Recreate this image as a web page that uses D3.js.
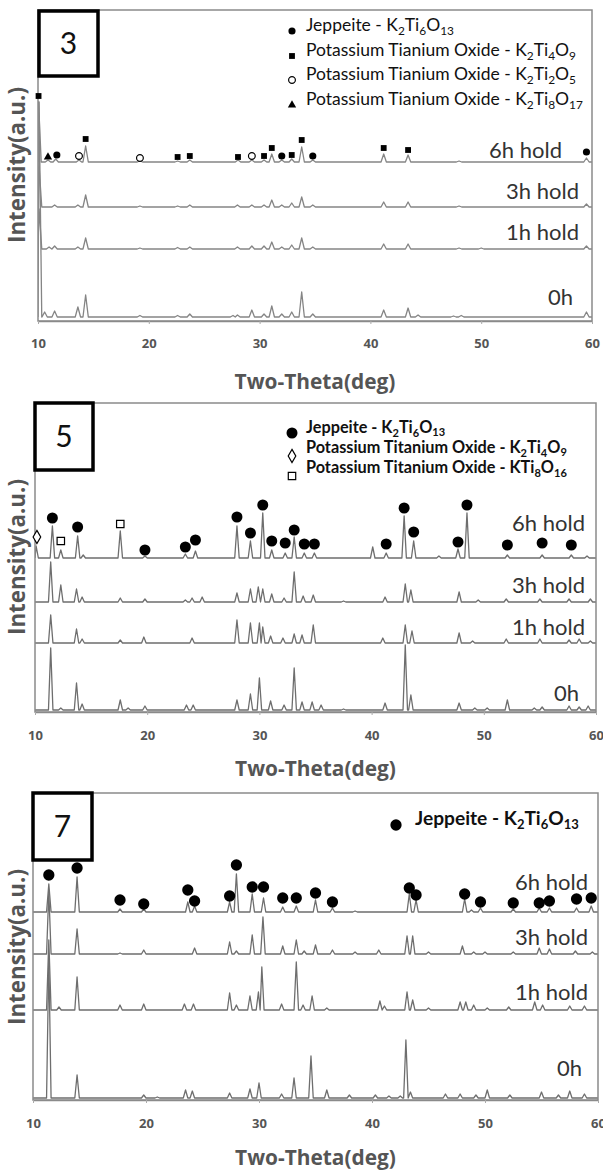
<!DOCTYPE html>
<html><head><meta charset="utf-8">
<script src="https://cdn.jsdelivr.net/npm/d3@7"></script>
<style>body{margin:0;background:#fff}</style>
</head><body><svg id="c" width="603" height="1173"></svg>
<script>
// ---------------- DATA ----------------
const xTicks = [10, 20, 30, 40, 50, 60];
const traceNames = ["0h", "1h hold", "3h hold", "6h hold"];

// Panel 3 (first panel in the figure)
const p1Offsets = [4, 72, 114, 159];
const p1Peaks0h = [[10.1,215],[10.6,5],[11.5,6],[13.6,10],[14.3,22],[19.2,1.5],[22.6,1.5],[23.7,3],[27.6,1.5],[28.0,2],[29.3,7],[30.4,3],[31.1,11],[32.0,3],[32.9,5],[33.8,25],[34.8,3],[41.2,7],[43.4,9],[44.3,2],[47.5,1],[48.2,1.5],[59.5,5]];
const p1Peaks1h = [[10.1,40],[11.0,2],[11.5,3],[13.6,2],[14.3,11],[19.2,1],[22.6,1.5],[23.7,2],[28.0,2],[29.3,3],[30.4,3],[31.1,7],[32.0,2],[32.9,4],[33.8,11],[34.8,2],[41.2,5],[43.4,5],[48.0,1],[50.0,1],[59.5,3]];
const p1Peaks3h = [[10.1,40],[11.5,2],[13.6,2],[14.3,12],[19.2,1],[22.6,1],[23.7,2],[28.0,2],[29.3,2],[30.4,2],[31.1,7],[32.0,2],[32.9,4],[33.8,10],[34.8,2],[41.2,5],[43.4,5],[48.0,1],[59.5,3]];
const p1Peaks6h = [[10.05,60],[10.9,2],[11.6,3],[13.7,2],[14.3,16],[19.2,1],[22.6,1],[23.7,2],[28.05,2],[29.3,2],[30.4,2],[31.1,8],[32.0,2],[32.9,3],[33.8,15],[34.8,2],[41.2,8],[43.4,7],[48.0,1],[59.5,4]];
const p1Jeppeite = [[11.7,7],[32.0,6],[34.8,6],[59.5,10]];
const p1K2Ti4O9 = [[10.05,66],[14.3,23],[22.6,5],[23.7,6],[28.05,5],[30.4,6],[31.1,14],[32.9,7],[33.8,22],[41.2,14],[43.4,12]];
const p1K2Ti2O5 = [[13.7,6],[19.2,4],[29.3,6]];
const p1K2Ti8O17 = [[10.9,5]];
const p1Legend = ["Jeppeite - K_{2}Ti_{6}O_{13}", "Potassium Tianium Oxide - K_{2}Ti_{4}O_{9}", "Potassium Tianium Oxide - K_{2}Ti_{2}O_{5}", "Potassium Tianium Oxide - K_{2}Ti_{8}O_{17}"];

// Panel 5
const p2Offsets = [2, 69, 110, 154];
const p2Peaks0h = [[11.4,62],[12.3,2],[13.7,27],[14.2,6],[17.6,10],[18.3,2],[19.8,4],[23.5,5],[24.1,5],[28.0,10],[29.2,16],[30.0,32],[31.0,9],[32.2,5],[33.1,42],[33.8,8],[34.7,8],[35.5,5],[37.5,1],[41.2,7],[43.0,65],[43.5,15],[47.8,7],[49.2,2],[50.3,2],[52.1,10],[54.5,2],[55.2,3],[57.6,4],[58.5,3],[59.3,4]];
const p2Peaks1h = [[11.4,28],[13.7,14],[14.2,4],[17.6,3],[19.7,6],[24.0,5],[28.0,23],[29.2,20],[30.0,20],[30.3,16],[31.0,7],[32.1,5],[33.1,9],[33.8,8],[34.8,18],[41.0,5],[43.0,18],[43.6,12],[47.8,10],[49.0,2],[52.0,4],[55.0,4],[57.6,3],[58.5,4],[59.5,2]];
const p2Peaks3h = [[11.4,40],[12.3,17],[13.7,13],[14.2,5],[17.6,4],[19.8,3],[23.4,2],[24.0,4],[24.9,5],[28.0,9],[29.2,13],[29.9,15],[30.3,13],[31.1,8],[32.2,4],[33.1,30],[33.9,6],[34.8,7],[37.5,1],[41.2,5],[43.0,18],[43.5,12],[47.8,10],[49.5,2],[52.0,3],[55.0,3],[57.6,3],[59.5,3]];
const p2Peaks6h = [[10.1,12],[11.55,32],[12.3,8],[13.8,22],[14.3,3],[17.6,27],[19.8,2],[23.4,4],[24.3,7],[28.0,32],[29.2,17],[30.3,45],[31.1,8],[32.3,5],[33.1,21],[34.0,5],[34.9,5],[40.1,11],[41.3,5],[42.9,42],[43.75,17],[46.0,2],[47.7,9],[48.5,45],[52.1,3],[55.2,3],[57.8,3],[59.2,2]];
const p2Jeppeite = [[11.55,40],[13.8,31],[19.8,8],[23.4,11],[24.3,18],[28.0,41],[29.2,25],[30.3,53],[31.1,17],[32.3,15],[33.1,28],[34.0,14],[34.9,14],[41.3,14],[42.9,50],[43.75,26],[47.7,16],[48.5,53],[52.1,13],[55.2,15],[57.8,13]];
const p2K2Ti4O9 = [[10.17,21]];
const p2KTi8O16 = [[12.3,17],[17.6,34]];
const p2Legend = ["Jeppeite - K_{2}Ti_{6}O_{13}", "Potassium Titanium Oxide - K_{2}Ti_{4}O_{9}", "Potassium Titanium Oxide - KTi_{8}O_{16}"];

// Panel 7
const p3Offsets = [2, 90, 146, 188];
const p3Peaks0h = [[11.4,140],[13.9,23],[19.8,3],[21.0,1],[23.5,8],[24.1,7],[27.4,5],[29.2,9],[30.0,15],[32.0,4],[33.1,20],[34.6,42],[36.0,8],[38.0,3],[40.3,3],[41.5,2],[42.5,2],[43.0,58],[43.4,6],[46.5,4],[47.8,4],[49.2,3],[50.2,8],[52.2,3],[55.0,6],[56.5,3],[57.5,7],[58.8,4]];
const p3Peaks1h = [[11.4,70],[12.3,3],[13.9,33],[17.7,5],[19.8,6],[23.4,6],[24.2,6],[27.4,17],[28.0,5],[29.2,14],[29.95,18],[30.25,43],[32.0,6],[33.3,48],[33.9,5],[34.7,14],[36.0,2],[40.7,9],[41.1,4],[43.1,18],[43.6,10],[45.0,2],[47.8,8],[48.3,8],[49.0,5],[50.2,2],[52.1,3],[54.4,8],[55.1,5],[57.5,4],[58.8,4]];
const p3Peaks3h = [[11.4,62],[13.9,25],[17.7,1],[19.8,4],[24.3,6],[27.4,12],[28.0,3],[29.4,19],[30.35,37],[32.1,8],[33.3,14],[34.0,3],[35.0,9],[36.5,4],[38.5,2],[40.6,4],[43.1,18],[43.6,18],[45.0,2],[48.0,8],[49.0,2],[50.0,2],[52.5,2],[54.8,6],[55.7,5],[58.0,3],[59.5,2]];
const p3Peaks6h = [[11.4,28],[13.9,35],[17.7,3],[19.8,3],[23.7,10],[24.3,6],[27.4,10],[28.0,38],[29.4,18],[30.4,14],[32.1,5],[33.3,6],[35.0,12],[36.5,4],[38.5,1],[43.3,18],[43.9,12],[48.2,13],[48.8,2],[49.6,4],[52.5,3],[54.8,4],[55.7,4],[58.1,4],[59.4,6]];
const p3Jeppeite = [[11.4,37],[13.9,44],[17.7,12],[19.8,8],[23.7,22],[24.3,11],[27.4,16],[28.0,47],[29.4,25],[30.4,25],[32.1,14],[33.3,14],[35.0,19],[36.5,10],[43.3,24],[43.9,17],[48.2,18],[49.6,10],[52.5,9],[54.8,9],[55.7,11],[58.1,13],[59.4,14]];
const p3Legend = ["Jeppeite - K_{2}Ti_{6}O_{13}"];

const panelNumbers = ["3", "5", "7"];
const xTitle = "Two-Theta(deg)";
const yTitle = "Intensity(a.u.)";

// ---------------- LAYOUT ----------------
const svg = d3.select("#c");
const FONT = "Lato, 'Open Sans', sans-serif";

const panels = [
  { num: panelNumbers[0], left: 38, right: 592, top: 10, bottom: 321, hw: 0.24, lineColor: "#858585",
    box: [39, 11, 98, 76], yTitleC: 165, tickY: 343, titleY: 381,
    offsets: p1Offsets, peaks: [p1Peaks0h, p1Peaks1h, p1Peaks3h, p1Peaks6h],
    labelRight: [573, 579, 579, 562], labelY: [297, 232, 191, 150],
    markers: [
      { data: p1Jeppeite, type: "circle", size: 40 },
      { data: p1K2Ti4O9, type: "square", size: 34 },
      { data: p1K2Ti2O5, type: "circleOpen", size: 36 },
      { data: p1K2Ti8O17, type: "triangle", size: 30 }],
    legend: { texts: p1Legend, types: ["circle","square","circleOpen","triangle"], sizes: [40,34,36,30],
      markerX: 292, textX: 306, rows: [31, 56, 80, 105], width: 277, bold: false }
  },
  { num: panelNumbers[1], left: 35, right: 596, top: 403, bottom: 712, hw: 0.2, lineColor: "#6e6e6e",
    box: [35, 403, 93, 470], yTitleC: 557, tickY: 735, titleY: 768,
    offsets: p2Offsets, peaks: [p2Peaks0h, p2Peaks1h, p2Peaks3h, p2Peaks6h],
    labelRight: [579, 585, 585, 585], labelY: [693, 627, 585, 523],
    markers: [
      { data: p2Jeppeite, type: "circle", size: 95 },
      { data: p2K2Ti4O9, type: "diamondOpen", size: 50 },
      { data: p2KTi8O16, type: "squareOpen", size: 55 }],
    legend: { texts: p2Legend, types: ["circle","diamondOpen","squareOpen"], sizes: [95,50,55],
      markerX: 292, textX: 306, rows: [433, 453, 473], markerDy: [0, 3, 3], width: 261, bold: true }
  },
  { num: panelNumbers[2], left: 33, right: 598, top: 793, bottom: 1100, hw: 0.2, lineColor: "#6e6e6e",
    box: [33, 793, 92, 860], yTitleC: 947, tickY: 1123, titleY: 1157,
    offsets: p3Offsets, peaks: [p3Peaks0h, p3Peaks1h, p3Peaks3h, p3Peaks6h],
    labelRight: [582, 588, 588, 588], labelY: [1068, 992, 937, 882],
    markers: [ { data: p3Jeppeite, type: "circle", size: 100 } ],
    legend: { texts: p3Legend, types: ["circle"], sizes: [100],
      markerX: 396, textX: 415, rows: [825], width: 164, bold: true }
  }
];

function buildPoints(peaks, hw) {
  const s = peaks.slice().sort((a, b) => a[0] - b[0]);
  const pts = [[10, 0]];
  s.forEach((p, i) => {
    const prev = i > 0 ? s[i - 1][0] : null;
    const next = i < s.length - 1 ? s[i + 1][0] : null;
    const lf = Math.max(p[0] - hw, prev !== null ? (prev + p[0]) / 2 : 10);
    const rf = Math.min(p[0] + hw, next !== null ? (p[0] + next) / 2 : 60);
    pts.push([lf, 0], [p[0], p[1]], [rf, 0]);
  });
  pts.push([60, 0]);
  return pts;
}

function symbolPath(type, size) {
  const map = { circle: d3.symbolCircle, circleOpen: d3.symbolCircle, square: d3.symbolSquare,
    squareOpen: d3.symbolSquare, triangle: d3.symbolTriangle, diamondOpen: d3.symbolDiamond };
  return d3.symbol().type(map[type]).size(size)();
}
function styleSymbol(sel, type) {
  const open = type.endsWith("Open");
  sel.attr("fill", open ? "#fff" : "#000").attr("stroke", "#000").attr("stroke-width", open ? 1.2 : 0);
}

function addRich(textSel, str) {
  const parts = str.split(/(_\{\d+\})/).filter(s => s.length);
  let sub = false;
  parts.forEach(pt => {
    const m = pt.match(/^_\{(\d+)\}$/);
    if (m) {
      textSel.append("tspan").attr("font-size", "0.68em").attr("dy", sub ? 0 : "0.32em").text(m[1]);
      sub = true;
    } else {
      textSel.append("tspan").attr("dy", sub ? "-0.22em" : 0).text(pt);
      sub = false;
    }
  });
}

function fitWidth(sel, base, target) {
  let maxW = 0;
  sel.each(function () { maxW = Math.max(maxW, this.getComputedTextLength()); });
  if (maxW > 0) sel.attr("font-size", base * target / maxW);
}

panels.forEach((cfg, pi) => {
  const x = d3.scaleLinear().domain([10, 60]).range([cfg.left, cfg.right]);
  const y = d3.scaleLinear().domain([0, cfg.bottom - cfg.top]).range([cfg.bottom, cfg.top]);
  const g = svg.append("g");
  const clipId = "clip" + pi;
  svg.append("clipPath").attr("id", clipId).append("rect")
    .attr("x", cfg.left).attr("y", cfg.top).attr("width", cfg.right - cfg.left).attr("height", cfg.bottom - cfg.top);

  const line = d3.line().x(d => x(d[0])).y(d => y(d[1]));
  cfg.peaks.forEach((pk, i) => {
    const off = cfg.offsets[i];
    const pts = buildPoints(pk, cfg.hw).map(d => [d[0], d[1] + off]);
    g.append("path").attr("d", line(pts)).attr("fill", "none")
      .attr("stroke", cfg.lineColor).attr("stroke-width", 1.3).attr("stroke-linejoin", "round")
      .attr("clip-path", `url(#${clipId})`);
    g.append("text").attr("x", cfg.labelRight[i]).attr("y", cfg.labelY[i]).attr("dy", "0.36em")
      .attr("text-anchor", "end").attr("font-family", FONT).attr("font-size", 22).attr("fill", "#333")
      .text(traceNames[i]);
  });

  // frame
  g.append("rect").attr("x", cfg.left).attr("y", cfg.top).attr("width", cfg.right - cfg.left)
    .attr("height", cfg.bottom - cfg.top).attr("fill", "none").attr("stroke", "#8a8a8a").attr("stroke-width", 1.5);

  // x axis
  const fs = 13;
  const ax = d3.axisBottom(x).tickValues(xTicks).tickSize(3).tickSizeOuter(0)
    .tickPadding(cfg.tickY - cfg.bottom - 3 - fs * 0.36);
  const axg = g.append("g").attr("transform", `translate(0,${cfg.bottom})`).call(ax);
  axg.select(".domain").attr("stroke", "#8a8a8a").attr("stroke-width", 1.5);
  axg.selectAll(".tick line").attr("stroke", "#aaa");
  axg.selectAll(".tick text").attr("font-family", "'Open Sans', sans-serif").attr("font-weight", "bold")
    .attr("font-size", fs).attr("fill", "#555");

  // markers on 6h trace
  const off6 = cfg.offsets[3];
  cfg.markers.forEach(mk => {
    g.selectAll(null).data(mk.data).enter().append("path")
      .attr("d", symbolPath(mk.type, mk.size))
      .attr("transform", d => `translate(${x(d[0])},${y(d[1] + off6)})`)
      .call(styleSymbol, mk.type);
  });

  // legend
  const lg = cfg.legend;
  lg.texts.forEach((t, i) => {
    const dyM = lg.markerDy ? lg.markerDy[i] : 0;
    g.append("path").attr("d", symbolPath(lg.types[i], lg.sizes[i]))
      .attr("transform", `translate(${lg.markerX},${lg.rows[i] + dyM})`).call(styleSymbol, lg.types[i]);
    const tx = g.append("text").attr("class", "lg" + pi).attr("x", lg.textX).attr("y", lg.rows[i]).attr("dy", "0.36em")
      .attr("font-family", FONT).attr("font-size", 14).attr("font-weight", lg.bold ? "bold" : "normal")
      .attr("fill", "#111");
    addRich(tx, t);
  });
  fitWidth(g.selectAll(".lg" + pi), 14, lg.width);

  // number box
  const b = cfg.box;
  g.append("rect").attr("x", b[0]).attr("y", b[1]).attr("width", b[2] - b[0]).attr("height", b[3] - b[1])
    .attr("fill", "#fff").attr("stroke", "#000").attr("stroke-width", 3.5);
  g.append("text").attr("x", (b[0] + b[2]) / 2).attr("y", (b[1] + b[3]) / 2).attr("dy", "0.36em")
    .attr("text-anchor", "middle").attr("font-family", FONT).attr("font-size", 30).attr("fill", "#111")
    .text(cfg.num);

  // titles
  const xt = g.append("text").attr("x", (cfg.left + cfg.right) / 2).attr("y", cfg.titleY).attr("dy", "0.36em")
    .attr("text-anchor", "middle").attr("font-family", "'Open Sans', sans-serif").attr("font-weight", "bold")
    .attr("font-size", 17).attr("fill", "#555").text(xTitle);
  fitWidth(xt, 17, 161);
  const yt = g.append("text").attr("transform", `translate(17,${cfg.yTitleC}) rotate(-90)`).attr("dy", "0.36em")
    .attr("text-anchor", "middle").attr("font-family", "'Open Sans', sans-serif").attr("font-weight", "bold")
    .attr("font-size", 17).attr("fill", "#555").text(yTitle);
  fitWidth(yt, 17, 156);
});
</script></body></html>
